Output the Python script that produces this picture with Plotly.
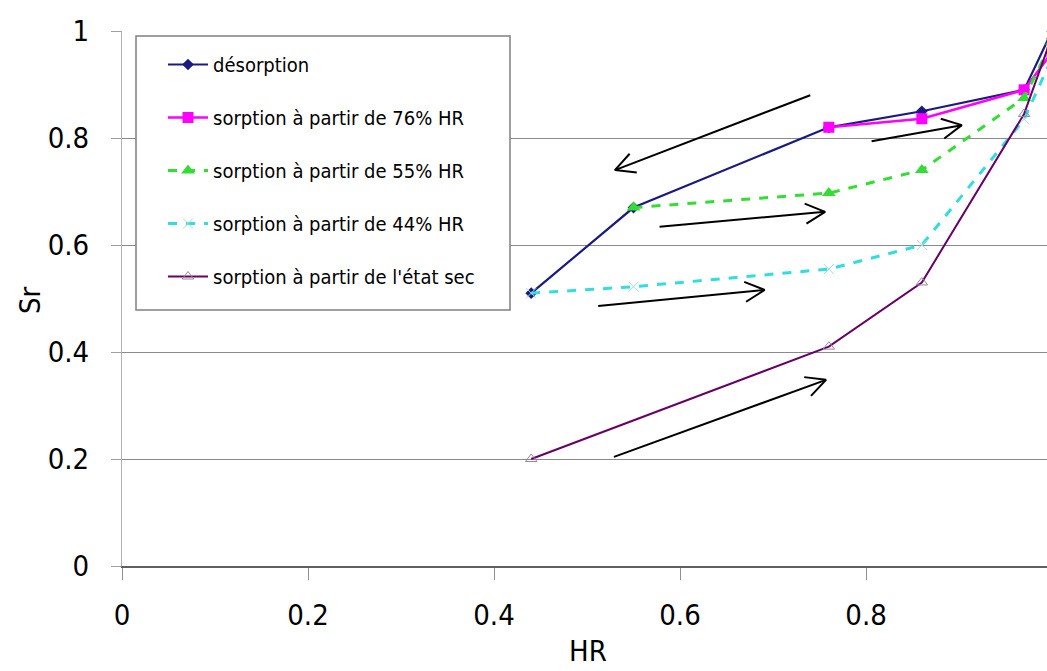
import math
import plotly.graph_objects as go

# ---- data ----
hr_des = [0.44, 0.55, 0.76, 0.86, 0.97, 1.0]
sr_des = [0.51, 0.67, 0.82, 0.85, 0.89, 1.0]

hr_76 = [0.76, 0.86, 0.97, 1.0]
sr_76 = [0.82, 0.836, 0.89, 0.96]

hr_55 = [0.55, 0.76, 0.86, 0.97, 1.0]
sr_55 = [0.67, 0.697, 0.74, 0.875, 0.98]

hr_44 = [0.44, 0.55, 0.76, 0.86, 0.97, 1.0]
sr_44 = [0.51, 0.522, 0.555, 0.60, 0.835, 0.95]

hr_sec = [0.44, 0.76, 0.86, 0.97, 1.0]
sr_sec = [0.20, 0.41, 0.53, 0.845, 0.99]

names = ["désorption",
         "sorption à partir de 76% HR",
         "sorption à partir de 55% HR",
         "sorption à partir de 44% HR",
         "sorption à partir de l'état sec"]

x_ticks = [0, 0.2, 0.4, 0.6, 0.8]
y_ticks = [0, 0.2, 0.4, 0.6, 0.8, 1]
x_title = "HR"
y_title = "Sr"

# arrows: (x_tail, y_tail, x_head, y_head)
arrows = [
    (0.740, 0.880, 0.530, 0.740),
    (0.806, 0.794, 0.903, 0.824),
    (0.578, 0.634, 0.756, 0.662),
    (0.512, 0.486, 0.691, 0.516),
    (0.529, 0.204, 0.757, 0.348),
]

FONT = "'Liberation Sans Narrow', 'DejaVu Sans Condensed', sans-serif"

W, H = 1047, 671
ML, MR, MT, MB = 122, 0, 31, 105
XR = [0, 0.9946]
YR = [0, 1]
PW, PH = W - ML - MR, H - MT - MB
px_x = PW / (XR[1] - XR[0])
px_y = PH / (YR[1] - YR[0])

fig = go.Figure()

fig.add_trace(go.Scatter(x=hr_des, y=sr_des, name=names[0], mode="lines+markers",
                         legendgroup="a",
                         line=dict(color="#1a1a80", width=2.2),
                         marker=dict(symbol="diamond", size=9, color="#1a1a80")))
fig.add_trace(go.Scatter(x=hr_76, y=sr_76, name=names[1], mode="lines+markers",
                         legendgroup="b",
                         line=dict(color="#ff00ff", width=2.5),
                         marker=dict(symbol="square", size=11, color="#ff00ff")))
fig.add_trace(go.Scatter(x=hr_55, y=sr_55, name=names[2], mode="lines+markers",
                         legendgroup="c",
                         line=dict(color="#33dd33", width=3, dash="dash"),
                         marker=dict(symbol="triangle-up", size=12, color="#33dd33")))
fig.add_trace(go.Scatter(x=hr_44, y=sr_44, name=names[3], mode="lines+markers",
                         legendgroup="d",
                         line=dict(color="#33dddd", width=3, dash="dash"),
                         marker=dict(symbol="x-thin", size=10, color="#99dddd",
                                     line=dict(color="#99dddd", width=1))))
fig.add_trace(go.Scatter(x=hr_sec, y=sr_sec, name=names[4], mode="lines+markers",
                         legendgroup="e",
                         line=dict(color="#660066", width=2),
                         marker=dict(symbol="triangle-up-open", size=10, color="#998899",
                                     line=dict(width=1))))

# arrows with open V heads (head arms computed in screen space)
ARM = 22.0
ANG = math.radians(27)
for (x0, y0, x1, y1) in arrows:
    dxp = (x1 - x0) * px_x
    dyp = (y1 - y0) * px_y
    L = math.hypot(dxp, dyp)
    ux, uy = -dxp / L, -dyp / L
    arms = []
    for s in (1, -1):
        c, sn = math.cos(s * ANG), math.sin(s * ANG)
        rx, ry = ux * c - uy * sn, ux * sn + uy * c
        arms.append((x1 + rx * ARM / px_x, y1 + ry * ARM / px_y))
    fig.add_trace(go.Scatter(x=[x0, x1, None, arms[0][0], x1, arms[1][0]],
                             y=[y0, y1, None, arms[0][1], y1, arms[1][1]],
                             mode="lines", showlegend=False, hoverinfo="skip",
                             line=dict(color="black", width=2)))

# legend frame
fig.add_shape(type="rect", xref="paper", yref="paper", layer="above",
              x0=(136 - ML) / PW, x1=(510 - ML) / PW,
              y0=(H - MB - 310) / PH, y1=(H - MB - 36) / PH,
              line=dict(color="#808080", width=1.5), fillcolor="white")

# axis titles
fig.add_annotation(text=x_title, xref="paper", yref="paper",
                   x=(588 - ML) / PW, y=(H - MB - 670) / PH,
                   xanchor="center", yanchor="bottom", showarrow=False,
                   font=dict(family=FONT, size=29, color="black"))
fig.add_annotation(text=y_title, xref="paper", yref="paper",
                   x=(30 - ML) / PW, y=(H - MB - 300) / PH,
                   xanchor="center", yanchor="middle", showarrow=False, textangle=-90,
                   font=dict(family=FONT, size=29, color="black"))

fig.update_layout(
    width=W, height=H,
    margin=dict(l=ML, r=MR, t=MT, b=MB),
    paper_bgcolor="white", plot_bgcolor="white",
    font=dict(family=FONT, size=29, color="black"),
    showlegend=True,
    legend=dict(x=(163 - ML) / PW, y=(H - MB - 45) / PH,
                xanchor="left", yanchor="top",
                bgcolor="rgba(0,0,0,0)", borderwidth=0,
                font=dict(family=FONT, size=20, color="black"),
                tracegroupgap=24, itemwidth=40),
    xaxis=dict(range=XR, tickvals=x_ticks,
               ticktext=[str(v) for v in x_ticks],
               showgrid=False, zeroline=False,
               showline=True, linecolor="#606060", linewidth=2,
               ticks="outside", ticklen=12, tickcolor="#909090",
               ticklabelstandoff=10),
    yaxis=dict(range=YR, tickvals=y_ticks,
               ticktext=[str(v) for v in y_ticks],
               showgrid=True, gridcolor="#8a8a8a", gridwidth=1,
               zeroline=False,
               showline=True, linecolor="#b0b0b0", linewidth=1,
               ticks="outside", ticklen=10, tickcolor="#a0a0a0",
               ticklabelstandoff=16),
)

fig.write_html("out.html", config={"displayModeBar": False},
               post_script="document.body.style.margin='0';")
